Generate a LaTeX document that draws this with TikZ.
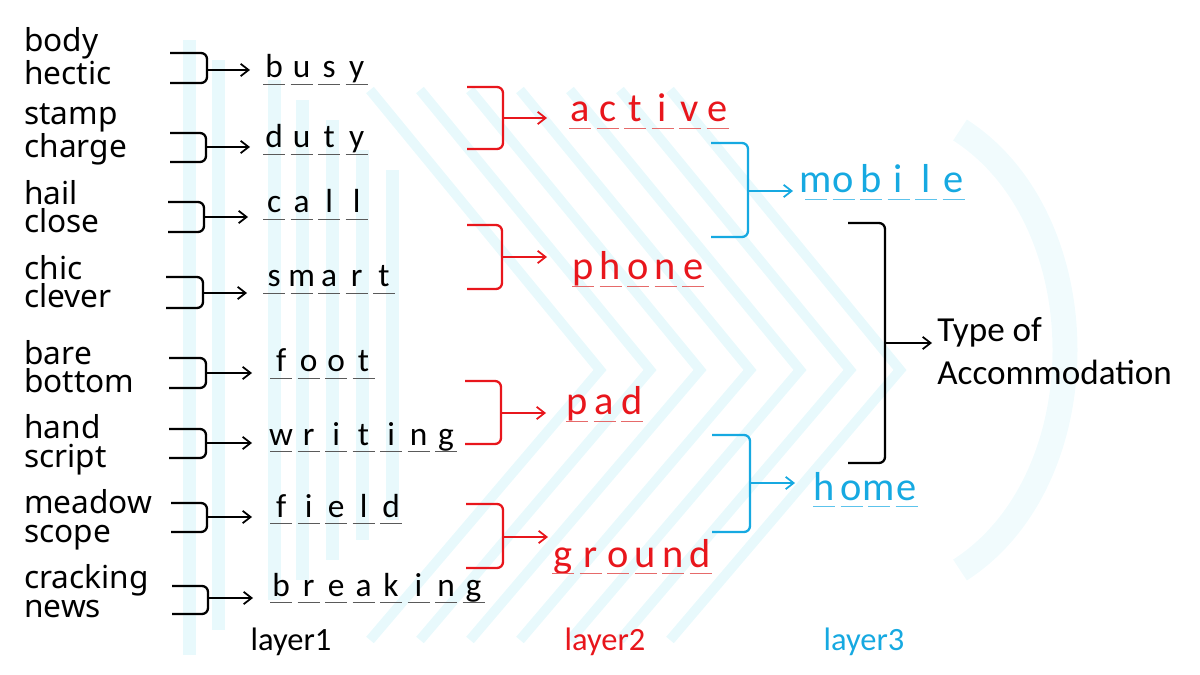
\documentclass[tikz,border=0pt]{standalone}
\usepackage{fontspec}
\setmainfont{Carlito}
\newfontfamily\cuefont{Noto Sans}
\usetikzlibrary{arrows.meta}

\definecolor{layred}{HTML}{E8161C}
\definecolor{layblue}{HTML}{16A9E1}
\definecolor{ulgray}{HTML}{5A5A5A}
\definecolor{ulred}{HTML}{E66A6A}
\definecolor{ulblue}{HTML}{5CC3EC}
\definecolor{bgcyan}{HTML}{C6F0F8}

% one letter over its own blank
\newcommand\blank[2]{\makebox[0.55cm]{#2}\llap{\textcolor{#1}{\rule[-4.2pt]{0.44cm}{0.6pt}}\hspace{0.055cm}}}
\newcommand\spell[2]{\foreach \letr in {#2}{\blank{#1}{\letr}}}

\tikzset{
    cue/.style={anchor=base west, inner sep=0pt, align=left, font=\cuefont\fontsize{18}{16.3}\selectfont},
    word/.style={anchor=base west, inner sep=0pt, font=\fontsize{19}{22}\selectfont},
    wordred/.style={word, text=layred, font=\fontsize{23}{26}\selectfont},
    wordblue/.style={word, text=layblue, font=\fontsize{23}{26}\selectfont},
    tag/.style={anchor=base, inner sep=0pt, font=\fontsize{18.5}{22}\selectfont},
    brk/.style={line width=1.3pt, rounded corners=0.12cm},
    feed/.style={-{Straight Barb[length=4.5pt,width=7pt]}, line width=1pt},
    band/.style={bgcyan, opacity=0.4}
}

\begin{document}
\begin{tikzpicture}[x=0.02cm, y=-0.02cm]
    \useasboundingbox (0,0) rectangle (1200,675);

    % faint background pattern
    \foreach \bx/\btop/\bbot in {183/40/655, 212/60/630, 268/80/600, 296/100/580, 326/120/560, 356/150/540, 386/170/520}
        \fill[band] (\bx,\btop) rectangle ++(13,\bbot-\btop);
    \foreach \ax in {600,650,...,900}
        \draw[band, line width=0.2cm] (\ax-230,90) -- (\ax,370) -- (\ax-230,640);
    \draw[band, line width=0.5cm, opacity=0.25] (960,130) .. controls (1100,220) and (1100,480) .. (960,570);

    % layer 1
    \node[cue] (c1) at (24,85) {body\\hectic};
    \draw[brk] (170,53) -- (207,53) -- (207,83) -- (170,83);
    \coordinate (k1) at (207,70);
    \node[word] (busy) at (260,78) {\spell{ulgray}{b,u,s,y}};
    \draw[feed] (k1) -- (k1 -| 250,0);

    \node[cue] (c2) at (24,158) {stamp\\charge};
    \draw[brk] (170,133) -- (206,133) -- (206,162) -- (170,162);
    \coordinate (k2) at (206,147);
    \node[word] (duty) at (260,148) {\spell{ulgray}{d,u,t,y}};
    \draw[feed] (k2) -- (k2 -| 250,0);

    \node[cue] (c3) at (24,233) {hail\\close};
    \draw[brk] (168,202) -- (204,202) -- (204,232) -- (168,232);
    \coordinate (k3) at (204,217);
    \node[word] (call) at (260,213) {\spell{ulgray}{c,a,l,l}};
    \draw[feed] (k3) -- (k3 -| 248,0);

    \node[cue] (c4) at (24,308) {chic\\clever};
    \draw[brk] (166,277) -- (203,277) -- (203,308) -- (166,308);
    \coordinate (k4) at (203,293);
    \node[word] (smart) at (260,287) {\spell{ulgray}{s,m,a,r,t}};
    \draw[feed] (k4) -- (k4 -| 247,0);

    \node[cue] (c5) at (24,393) {bare\\bottom};
    \draw[brk] (169,358) -- (206,358) -- (206,388) -- (169,388);
    \coordinate (k5) at (206,373);
    \node[word] (foot) at (267,372) {\spell{ulgray}{f,o,o,t}};
    \draw[feed] (k5) -- (k5 -| 252,0);

    \node[cue] (c6) at (24,467) {hand\\script};
    \draw[brk] (169,429) -- (206,429) -- (206,458) -- (169,458);
    \coordinate (k6) at (206,443);
    \node[word] (writing) at (267,445) {\spell{ulgray}{w,r,i,t,i,n,g}};
    \draw[feed] (k6) -- (k6 -| 252,0);

    \node[cue] (c7) at (24,542) {meadow\\scope};
    \draw[brk] (171,503) -- (207,503) -- (207,532) -- (171,532);
    \coordinate (k7) at (207,517);
    \node[word] (field) at (267,517) {\spell{ulgray}{f,i,e,l,d}};
    \draw[feed] (k7) -- (k7 -| 252,0);

    \node[cue] (c8) at (24,617) {cracking\\news};
    \draw[brk] (172,586) -- (208,586) -- (208,614) -- (172,614);
    \coordinate (k8) at (208,598);
    \node[word] (breaking) at (267,596) {\spell{ulgray}{b,r,e,a,k,i,n,g}};
    \draw[feed] (k8) -- (k8 -| 253,0);

    % layer 2
    \draw[brk, layred] (467,87) -- (503,87) -- (503,149) -- (467,149);
    \coordinate (r1) at (503,118);
    \node[wordred] (active) at (566,122) {\spell{ulred}{a,c,t,i,v,e}};
    \draw[feed, layred] (r1) -- (r1 -| 547,0);

    \draw[brk, layred] (467,225) -- (502,225) -- (502,289) -- (467,289);
    \coordinate (r2) at (502,257);
    \node[wordred] (phone) at (569,280) {\spell{ulred}{p,h,o,n,e}};
    \draw[feed, layred] (r2) -- (r2 -| 547,0);

    \draw[brk, layred] (465,381) -- (501,381) -- (501,444) -- (465,444);
    \coordinate (r3) at (501,413);
    \node[wordred] (pad) at (563,415) {\spell{ulred}{p,a,d}};
    \draw[feed, layred] (r3) -- (r3 -| 546,0);

    \draw[brk, layred] (466,504) -- (503,504) -- (503,568) -- (466,568);
    \coordinate (r4) at (503,537);
    \node[wordred] (ground) at (549,567) {\spell{ulred}{g,r,o,u,n,d}};
    \draw[feed, layred] (r4) -- (r4 -| 548,0);

    % layer 3
    \draw[brk, layblue] (711,143) -- (748,143) -- (748,237) -- (711,237);
    \coordinate (u1) at (748,191);
    \node[wordblue] (mobile) at (802,193) {\spell{ulblue}{m,o,b,i,l,e}};
    \draw[feed, layblue] (u1) -- (u1 -| 793,0);

    \draw[brk, layblue] (712,435) -- (750,435) -- (750,532) -- (712,532);
    \coordinate (u2) at (750,483);
    \node[wordblue] (home) at (810,500) {\spell{ulblue}{h,o,m,e}};
    \draw[feed, layblue] (u2) -- (u2 -| 795,0);

    % final
    \draw[brk] (848,223) -- (885,223) -- (885,463) -- (848,463);
    \coordinate (f1) at (885,343);
    \node[tag, anchor=base west, align=left, font=\fontsize{20}{24.5}\selectfont] (type) at (937,385) {Type of\\Accommodation};
    \draw[feed] (f1) -- (f1 -| 932,0);

    \node[tag] (lay1) at (291,650) {layer1};
    \node[tag, text=layred] (lay2) at (605,650) {layer2};
    \node[tag, text=layblue] (lay3) at (864,650) {layer3};
\end{tikzpicture}
\end{document}
